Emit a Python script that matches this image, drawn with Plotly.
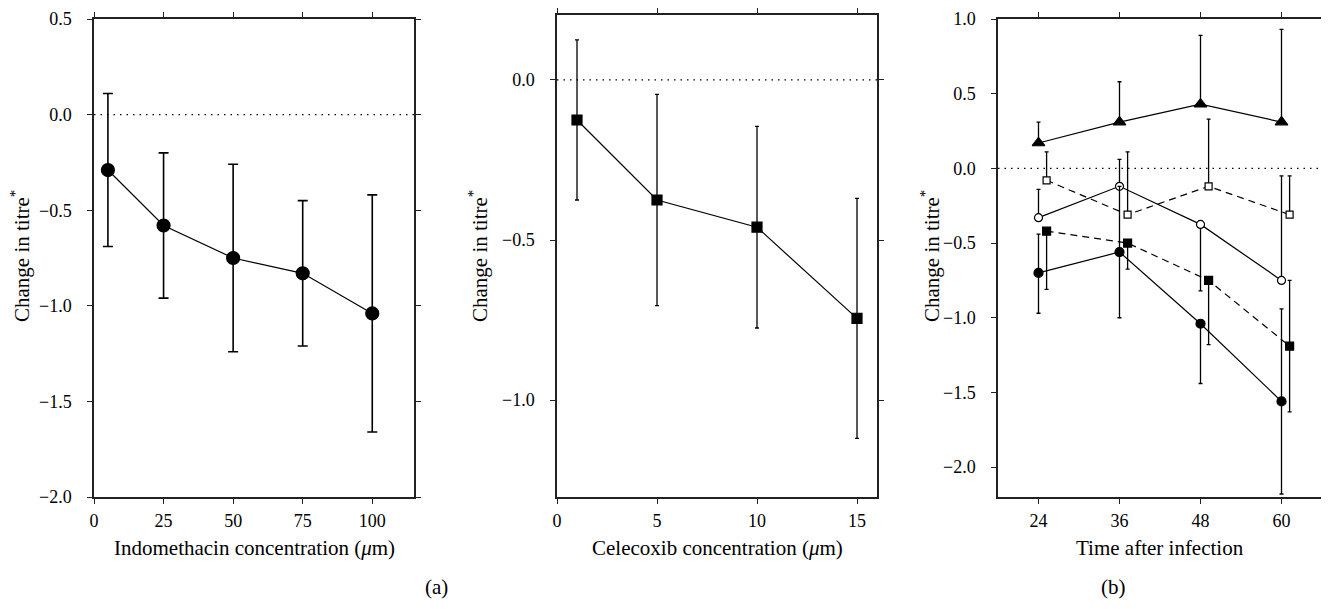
import plotly.graph_objects as go

# ---------------- data ----------------
indo_conc = [5, 25, 50, 75, 100]
indo_change = [-0.29, -0.58, -0.75, -0.83, -1.04]
indo_err = [0.40, 0.38, 0.49, 0.38, 0.62]

cele_conc = [1, 5, 10, 15]
cele_change = [-0.125, -0.375, -0.46, -0.745]
cele_err = [0.25, 0.33, 0.315, 0.375]

time_h = [24, 36, 48, 60]
time_shift = [25.2, 37.2, 49.2, 61.2]

tri_y = [0.17, 0.31, 0.43, 0.31]
tri_up = [0.14, 0.27, 0.46, 0.62]
tri_dn = [0, 0, 0, 0]

ocirc_y = [-0.33, -0.12, -0.375, -0.75]
ocirc_up = [0.19, 0.18, 0, 0.70]
ocirc_dn = [0, 0, 0.445, 0]

osq_y = [-0.08, -0.31, -0.12, -0.31]
osq_up = [0.19, 0.42, 0.45, 0.26]
osq_dn = [0, 0, 0, 0]

fsq_y = [-0.42, -0.50, -0.75, -1.19]
fsq_up = [0, 0, 0, 0.44]
fsq_dn = [0.39, 0.175, 0.43, 0.44]

fcirc_y = [-0.70, -0.56, -1.04, -1.56]
fcirc_up = [0.26, 0.44, 0, 0.62]
fcirc_dn = [0.27, 0.44, 0.40, 0.62]

x1_ticks = [0, 25, 50, 75, 100]
y1_ticks = [0.5, 0.0, -0.5, -1.0, -1.5, -2.0]
x2_ticks = [0, 5, 10, 15]
y2_ticks = [0.0, -0.5, -1.0]
x3_ticks = [24, 36, 48, 60]
y3_ticks = [1.0, 0.5, 0.0, -0.5, -1.0, -1.5, -2.0]

# ---------------- styling ----------------
# the page body has an 8px margin, so the figure is placed at (8, 8)
OX, OY = 8, 8
W, H = 1321, 593
FONT = "Liberation Serif, DejaVu Serif, Times New Roman, serif"
TICK_SIZE = 18
TITLE_SIZE = 21
BLACK = "#000000"
AX = "#222222"


def px_x(p):
    return (p - OX) / W


def px_y(p):
    return 1 - (p - OY) / H


fig = go.Figure()


def add_series(x, y, up, dn, xa, ya, symbol, size, fill, dash="solid",
               cap=2, thick=1.3):
    fig.add_trace(go.Scatter(
        x=x, y=y, xaxis=xa, yaxis=ya, mode="lines+markers",
        line=dict(color=BLACK, width=1.2, dash=dash),
        marker=dict(symbol=symbol, size=size, color=fill,
                    line=dict(color=BLACK, width=1.2)),
        error_y=dict(type="data", symmetric=False, array=up, arrayminus=dn,
                     color=BLACK, thickness=thick, width=cap),
        showlegend=False, cliponaxis=False,
    ))


# Panel 1
add_series(indo_conc, indo_change, indo_err, indo_err, "x", "y",
           "circle", 13, BLACK, cap=5, thick=1.6)
# Panel 2
add_series(cele_conc, cele_change, cele_err, cele_err, "x2", "y2",
           "square", 10, BLACK, cap=2, thick=1.3)
# Panel 3
add_series(time_h, tri_y, tri_up, tri_dn, "x3", "y3", "triangle-up", 11, BLACK)
add_series(time_h, ocirc_y, ocirc_up, ocirc_dn, "x3", "y3", "circle", 8, "white")
add_series(time_shift, osq_y, osq_up, osq_dn, "x3", "y3", "square", 7, "white",
           dash="7px,5px")
add_series(time_shift, fsq_y, fsq_up, fsq_dn, "x3", "y3", "square", 8, BLACK,
           dash="7px,5px")
add_series(time_h, fcirc_y, fcirc_up, fcirc_dn, "x3", "y3", "circle", 9, BLACK)

tickfont = dict(family=FONT, size=TICK_SIZE, color=BLACK)


def xaxis(dom, rng, ticks, anchor):
    return dict(domain=dom, range=rng, tickvals=ticks, anchor=anchor,
                automargin=False, ticklabeloverflow="allow",
                showline=True, linecolor=AX, linewidth=1.5, mirror="ticks",
                ticks="outside", ticklen=5, tickwidth=1.3, tickcolor=AX,
                showgrid=False, zeroline=False, tickfont=tickfont,
                ticklabelstandoff=2)


def yaxis(dom, rng, ticks, anchor):
    return dict(domain=dom, range=rng, tickvals=ticks, anchor=anchor,
                automargin=False, tickformat=".1f", ticklabeloverflow="allow",
                showline=True, linecolor=AX, linewidth=1.5, mirror="ticks",
                ticks="outside", ticklen=5, tickwidth=1.3, tickcolor=AX,
                showgrid=False, zeroline=False, tickfont=tickfont,
                ticklabelstandoff=12)


fig.update_layout(
    width=W, height=H,
    margin=dict(l=0, r=0, t=0, b=0, autoexpand=False),
    paper_bgcolor="white", plot_bgcolor="white",
    font=dict(family=FONT, color=BLACK),
    xaxis=xaxis([px_x(94), px_x(414)], [0, 115], x1_ticks, "y"),
    yaxis=yaxis([px_y(497), px_y(19)], [-2.0, 0.5], y1_ticks, "x"),
    xaxis2=xaxis([px_x(557), px_x(877)], [0, 16], x2_ticks, "y2"),
    yaxis2=yaxis([px_y(497), px_y(15)], [-1.303, 0.203], y2_ticks, "x2"),
    xaxis3=xaxis([px_x(998), px_x(1322)], [18, 66], x3_ticks, "y3"),
    yaxis3=yaxis([px_y(497), px_y(19)], [-2.2, 1.0], y3_ticks, "x3"),
)

# dotted zero lines
for xr, yr in [("x", "y"), ("x2", "y2"), ("x3", "y3")]:
    fig.add_shape(type="line", xref=f"{xr} domain", yref=yr,
                  x0=0, x1=1, y0=0, y1=0,
                  line=dict(color=BLACK, width=1.3, dash="1.5px,5px"),
                  layer="below")

titlefont = dict(family=FONT, size=TITLE_SIZE, color=BLACK)
ylab = "Change in titre<sup>*</sup>"
for xc in [20, 478, 930]:
    fig.add_annotation(text=ylab, xref="paper", yref="paper",
                       x=px_x(xc), y=px_y(256), textangle=-90,
                       showarrow=False, font=titlefont,
                       xanchor="center", yanchor="middle")

for txt, xc in [("Indomethacin concentration (<i>μ</i>m)", 254),
                ("Celecoxib concentration (<i>μ</i>m)", 717),
                ("Time after infection", 1160)]:
    fig.add_annotation(text=txt, xref="paper", yref="paper",
                       x=px_x(xc), y=px_y(548), showarrow=False,
                       font=titlefont, xanchor="center", yanchor="middle")

for txt, xc in [("(a)", 437), ("(b)", 1113)]:
    fig.add_annotation(text=txt, xref="paper", yref="paper",
                       x=px_x(xc), y=0, showarrow=False,
                       font=titlefont, xanchor="center", yanchor="bottom")

fig.write_html("out.html")
